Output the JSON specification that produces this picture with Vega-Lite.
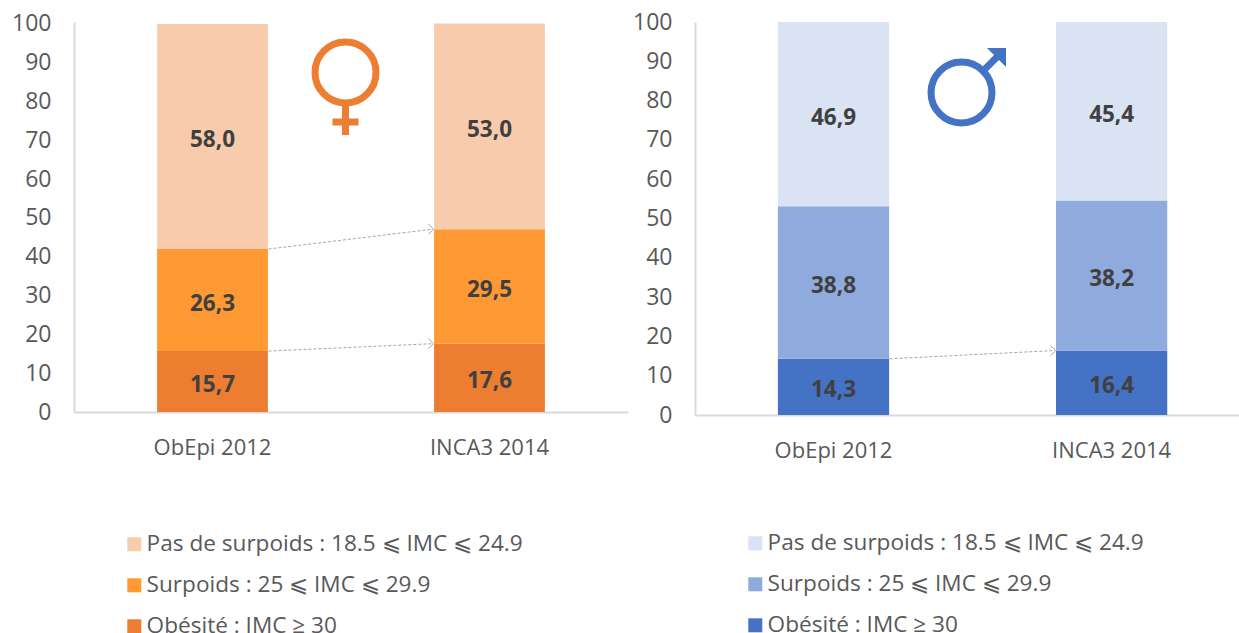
{
"$schema":"https://vega.github.io/schema/vega-lite/v6.json",
"background":"white",
"padding":{"left":11,"top":11,"right":0,"bottom":0},
"spacing":4,
"config":{"view":{"stroke":null},"font":"Open Sans",
"axis":{"grid":false,"ticks":false,"title":null,"labelFont":"Open Sans","labelFontSize":22,"labelColor":"#595959","domainColor":"#D9D9D9","domainWidth":2},
"legend":{"title":null,"labelFont":"Open Sans","labelFontSize":22.6,"labelColor":"#595959","symbolType":"square","symbolSize":196,"symbolStrokeWidth":0,"labelOffset":1,"rowPadding":18,"labelLimit":500}},
"hconcat":[
{"width":554,"height":390,
"layer":[
{"data":{"values":[
{"survey":"ObEpi 2012","category":"Obésité : IMC ≥ 30","rank":1,"value":15.7,"label":"15,7"},
{"survey":"ObEpi 2012","category":"Surpoids : 25 ⩽ IMC ⩽ 29.9","rank":2,"value":26.3,"label":"26,3"},
{"survey":"ObEpi 2012","category":"Pas de surpoids : 18.5 ⩽ IMC ⩽ 24.9","rank":3,"value":58.0,"label":"58,0"},
{"survey":"INCA3 2014","category":"Obésité : IMC ≥ 30","rank":1,"value":17.6,"label":"17,6"},
{"survey":"INCA3 2014","category":"Surpoids : 25 ⩽ IMC ⩽ 29.9","rank":2,"value":29.5,"label":"29,5"},
{"survey":"INCA3 2014","category":"Pas de surpoids : 18.5 ⩽ IMC ⩽ 24.9","rank":3,"value":53.0,"label":"53,0"}]},
"layer":[
{"mark":{"type":"bar"},
"encoding":{
"x":{"field":"survey","type":"nominal","scale":{"domain":["ObEpi 2012","INCA3 2014"],"paddingInner":0.6,"paddingOuter":0.3},"axis":{"labelAngle":0,"labelPadding":25}},
"y":{"field":"value","type":"quantitative","stack":"zero","scale":{"domain":[0,100.5],"nice":false},"axis":{"values":[0,10,20,30,40,50,60,70,80,90,100],"labelPadding":23,"labelFontSize":23,"labelOverlap":false}},
"order":{"field":"rank","type":"quantitative"},
"color":{"field":"category","type":"nominal","scale":{"domain":["Pas de surpoids : 18.5 ⩽ IMC ⩽ 24.9","Surpoids : 25 ⩽ IMC ⩽ 29.9","Obésité : IMC ≥ 30"],"range":["#F8CBAD","#FF9933","#ED7D31"]},"legend":{"orient":"none","legendX":49,"legendY":511}}}},
{"mark":{"type":"text","font":"Open Sans","fontWeight":"bold","fontSize":22.5,"color":"#404040","dy":3.5},
"encoding":{
"x":{"field":"survey","type":"nominal","axis":{"labelAngle":0,"labelPadding":25}},
"y":{"field":"value","type":"quantitative","stack":"zero","bandPosition":0.5,"axis":{"values":[0,10,20,30,40,50,60,70,80,90,100],"labelPadding":23,"labelFontSize":23,"labelOverlap":false}},
"order":{"field":"rank","type":"quantitative"},
"detail":{"field":"category"},
"text":{"field":"label"}}}
]},
{"data":{"values":[{"from":"ObEpi 2012","to":"INCA3 2014","start":42.0,"end":47.1},{"from":"ObEpi 2012","to":"INCA3 2014","start":15.7,"end":17.6}]},
"layer":[
{"mark":{"type":"rule","color":"#A6A6A6","strokeWidth":1,"strokeDash":[3,2],"xOffset":56,"x2Offset":-57},
"encoding":{"x":{"field":"from","type":"nominal","axis":{"labelAngle":0,"labelPadding":25}},"x2":{"field":"to"},"y":{"field":"start","type":"quantitative","axis":{"values":[0,10,20,30,40,50,60,70,80,90,100],"labelPadding":23,"labelFontSize":23,"labelOverlap":false}},"y2":{"field":"end"}}},
{"mark":{"type":"point","shape":"M-1,-1L0,0L-1,1","size":100,"filled":false,"color":"#A6A6A6","strokeWidth":1,"opacity":1,"xOffset":-56},
"encoding":{"x":{"field":"to","type":"nominal","axis":{"labelAngle":0,"labelPadding":25}},"y":{"field":"end","type":"quantitative","axis":{"values":[0,10,20,30,40,50,60,70,80,90,100],"labelPadding":23,"labelFontSize":23,"labelOverlap":false}}}}
]},
{"data":{"values":[{"survey":"ObEpi 2012","level":87.5}]},
"mark":{"type":"point","shape":"M-0.61,0A0.61,0.61 0 1,1 0.61,0A0.61,0.61 0 1,1 -0.61,0Z M0,0.61L0,1.25 M-0.26,0.99L0.26,0.99","size":10000,"filled":false,"color":"#ED7D31","strokeWidth":7,"opacity":1,"xOffset":133},
"encoding":{"x":{"field":"survey","type":"nominal","axis":{"labelAngle":0,"labelPadding":25}},"y":{"field":"level","type":"quantitative","axis":{"values":[0,10,20,30,40,50,60,70,80,90,100],"labelPadding":23,"labelFontSize":23,"labelOverlap":false}}}}
]},
{"width":544,"height":393,
"layer":[
{"data":{"values":[
{"survey":"ObEpi 2012","category":"Obésité : IMC ≥ 30","rank":1,"value":14.3,"label":"14,3"},
{"survey":"ObEpi 2012","category":"Surpoids : 25 ⩽ IMC ⩽ 29.9","rank":2,"value":38.8,"label":"38,8"},
{"survey":"ObEpi 2012","category":"Pas de surpoids : 18.5 ⩽ IMC ⩽ 24.9","rank":3,"value":46.9,"label":"46,9"},
{"survey":"INCA3 2014","category":"Obésité : IMC ≥ 30","rank":1,"value":16.4,"label":"16,4"},
{"survey":"INCA3 2014","category":"Surpoids : 25 ⩽ IMC ⩽ 29.9","rank":2,"value":38.2,"label":"38,2"},
{"survey":"INCA3 2014","category":"Pas de surpoids : 18.5 ⩽ IMC ⩽ 24.9","rank":3,"value":45.4,"label":"45,4"}]},
"layer":[
{"mark":{"type":"bar"},
"encoding":{
"x":{"field":"survey","type":"nominal","scale":{"domain":["ObEpi 2012","INCA3 2014"],"paddingInner":0.6,"paddingOuter":0.278,"align":0.536},"axis":{"labelAngle":0,"labelPadding":25}},
"y":{"field":"value","type":"quantitative","stack":"zero","scale":{"domain":[0,100],"nice":false},"axis":{"values":[0,10,20,30,40,50,60,70,80,90,100],"labelPadding":23,"labelFontSize":23,"labelOverlap":false}},
"order":{"field":"rank","type":"quantitative"},
"color":{"field":"category","type":"nominal","scale":{"domain":["Pas de surpoids : 18.5 ⩽ IMC ⩽ 24.9","Surpoids : 25 ⩽ IMC ⩽ 29.9","Obésité : IMC ≥ 30"],"range":["#DAE3F3","#8FAADC","#4472C4"]},"legend":{"orient":"none","legendX":49,"legendY":510}}}},
{"mark":{"type":"text","font":"Open Sans","fontWeight":"bold","fontSize":22.5,"color":"#404040","dy":3.5},
"encoding":{
"x":{"field":"survey","type":"nominal","axis":{"labelAngle":0,"labelPadding":25}},
"y":{"field":"value","type":"quantitative","stack":"zero","bandPosition":0.5,"axis":{"values":[0,10,20,30,40,50,60,70,80,90,100],"labelPadding":23,"labelFontSize":23,"labelOverlap":false}},
"order":{"field":"rank","type":"quantitative"},
"detail":{"field":"category"},
"text":{"field":"label"}}}
]},
{"data":{"values":[{"from":"ObEpi 2012","to":"INCA3 2014","start":14.3,"end":16.4}]},
"layer":[
{"mark":{"type":"rule","color":"#A6A6A6","strokeWidth":1,"strokeDash":[3,2],"xOffset":56,"x2Offset":-57},
"encoding":{"x":{"field":"from","type":"nominal","axis":{"labelAngle":0,"labelPadding":25}},"x2":{"field":"to"},"y":{"field":"start","type":"quantitative","axis":{"values":[0,10,20,30,40,50,60,70,80,90,100],"labelPadding":23,"labelFontSize":23,"labelOverlap":false}},"y2":{"field":"end"}}},
{"mark":{"type":"point","shape":"M-1,-1L0,0L-1,1","size":100,"filled":false,"color":"#A6A6A6","strokeWidth":1,"opacity":1,"xOffset":-56},
"encoding":{"x":{"field":"to","type":"nominal","axis":{"labelAngle":0,"labelPadding":25}},"y":{"field":"end","type":"quantitative","axis":{"values":[0,10,20,30,40,50,60,70,80,90,100],"labelPadding":23,"labelFontSize":23,"labelOverlap":false}}}}
]},
{"data":{"values":[{"survey":"ObEpi 2012","level":82.06}]},
"layer":[
{"mark":{"type":"point","shape":"M-0.61,0A0.61,0.61 0 1,1 0.61,0A0.61,0.61 0 1,1 -0.61,0Z M0.43,-0.43L0.72,-0.72","size":10000,"filled":false,"color":"#4472C4","strokeWidth":7,"opacity":1,"xOffset":128},
"encoding":{"x":{"field":"survey","type":"nominal","axis":{"labelAngle":0,"labelPadding":25}},"y":{"field":"level","type":"quantitative","axis":{"values":[0,10,20,30,40,50,60,70,80,90,100],"labelPadding":23,"labelFontSize":23,"labelOverlap":false}}}},
{"mark":{"type":"point","shape":"M0.51,-0.89L0.89,-0.89L0.89,-0.51Z","size":10000,"filled":true,"color":"#4472C4","strokeWidth":0,"opacity":1,"xOffset":128},
"encoding":{"x":{"field":"survey","type":"nominal","axis":{"labelAngle":0,"labelPadding":25}},"y":{"field":"level","type":"quantitative","axis":{"values":[0,10,20,30,40,50,60,70,80,90,100],"labelPadding":23,"labelFontSize":23,"labelOverlap":false}}}}
]}
]}
],
"resolve":{"scale":{"color":"independent"}}
}
